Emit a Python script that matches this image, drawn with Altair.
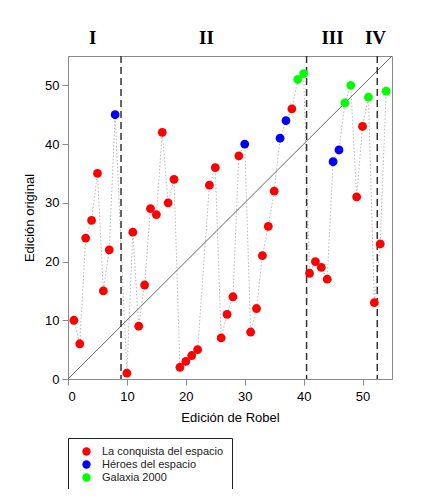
import altair as alt
import pandas as pd

# Data
robel = [1, 2, 3, 4, 5, 6, 7, 8, 10, 11, 12, 13, 14, 15, 16, 17, 18, 19, 20, 21, 22,
         24, 25, 26, 27, 28, 29, 30, 31, 32, 33, 34, 35, 36, 37, 38, 39, 40,
         41, 42, 43, 44, 45, 46, 47, 48, 49, 50, 51, 52, 53, 54]
original = [10, 6, 24, 27, 35, 15, 22, 45, 1, 25, 9, 16, 29, 28, 42, 30, 34, 2, 3, 4, 5,
            33, 36, 7, 11, 14, 38, 40, 8, 12, 21, 26, 32, 41, 44, 46, 51, 52,
            18, 20, 19, 17, 37, 39, 47, 50, 31, 43, 48, 13, 23, 49]
L, H, G = "La conquista del espacio", "Héroes del espacio", "Galaxia 2000"
serie = [L, L, L, L, L, L, L, H, L, L, L, L, L, L, L, L, L, L, L, L, L,
         L, L, L, L, L, L, H, L, L, L, L, L, H, H, L, G, G,
         L, L, L, L, H, H, G, G, L, L, G, L, L, G]

series_names = [L, H, G]
series_colors = ["#FF0000", "#0000FF", "#00FF00"]

dividers = [9, 40.5, 52.5]
numerals = ["I", "II", "III", "IV"]
numeral_x = [4.2, 23.5, 44.9, 52.2]

diag_start = [0, 0]
diag_end = [55, 55]

df = pd.DataFrame({"robel": robel, "original": original, "serie": serie})
div_df = pd.DataFrame({"x": dividers})
num_df = pd.DataFrame({"label": numerals, "x": numeral_x})
diag_df = pd.DataFrame({"x": [diag_start[0]], "y": [diag_start[1]],
                        "x2": [diag_end[0]], "y2": [diag_end[1]]})

xscale = alt.Scale(domain=[0, 55], nice=False, zero=False)
yscale = alt.Scale(domain=[0, 55], nice=False, zero=False)
ticks = [0, 10, 20, 30, 40, 50]

xaxis = alt.Axis(title="Edición de Robel", values=ticks, format="d")
yaxis = alt.Axis(title="Edición original", values=ticks, format="d")

base = alt.Chart(df)

line = base.mark_line(color="#b8b8b8", strokeDash=[1.5, 2], strokeWidth=1).encode(
    x=alt.X("robel:Q", scale=xscale, axis=xaxis),
    y=alt.Y("original:Q", scale=yscale, axis=yaxis),
    order="robel:Q",
)

diag = alt.Chart(diag_df).mark_rule(color="#666666", strokeWidth=1).encode(
    x=alt.X("x:Q", scale=xscale), y=alt.Y("y:Q", scale=yscale),
    x2="x2:Q", y2="y2:Q",
)

divs = alt.Chart(div_df).mark_rule(color="#333333", strokeDash=[7, 4], strokeWidth=1.5).encode(
    x=alt.X("x:Q", scale=xscale),
)

points = base.mark_circle(size=78, opacity=1).encode(
    x=alt.X("robel:Q", scale=xscale),
    y=alt.Y("original:Q", scale=yscale),
    color=alt.Color(
        "serie:N",
        scale=alt.Scale(domain=series_names, range=series_colors),
        legend=alt.Legend(
            title=None, orient="none", legendX=0, legendY=382,
            strokeColor="#222222", fillColor="white", padding=8,
            labelFont="Liberation Sans", labelFontSize=11, labelColor="#222222",
            symbolType="circle", symbolSize=70, labelOffset=10, rowPadding=1,
            symbolOffset=5,
        ),
    ),
)

texts = alt.Chart(num_df).mark_text(
    font="Liberation Serif", fontWeight="bold", fontSize=19, baseline="middle",
    align="center", color="black",
).encode(
    x=alt.X("x:Q", scale=xscale),
    y=alt.value(-18),
    text="label:N",
)

chart = alt.layer(line, diag, divs, points, texts).properties(
    width=324, height=323,
    autosize=alt.AutoSizeParams(type="none"),
    padding={"left": 60, "top": 48, "right": 15, "bottom": 110},
).configure_view(
    stroke="#8a8a8a", strokeWidth=1,
).configure_axis(
    grid=False, domainColor="#8a8a8a", tickColor="#8a8a8a", tickSize=6,
    labelFont="Liberation Sans", labelFontSize=13, labelColor="black",
    titleFont="Liberation Sans", titleFontSize=13, titleFontWeight="normal",
    titleColor="black",
).configure_axisX(
    labelPadding=5, titlePadding=8,
).configure_axisY(
    labelPadding=3, titlePadding=8, labelAngle=0,
)

chart.save("out.html", embed_options={"renderer": "svg", "actions": False})
